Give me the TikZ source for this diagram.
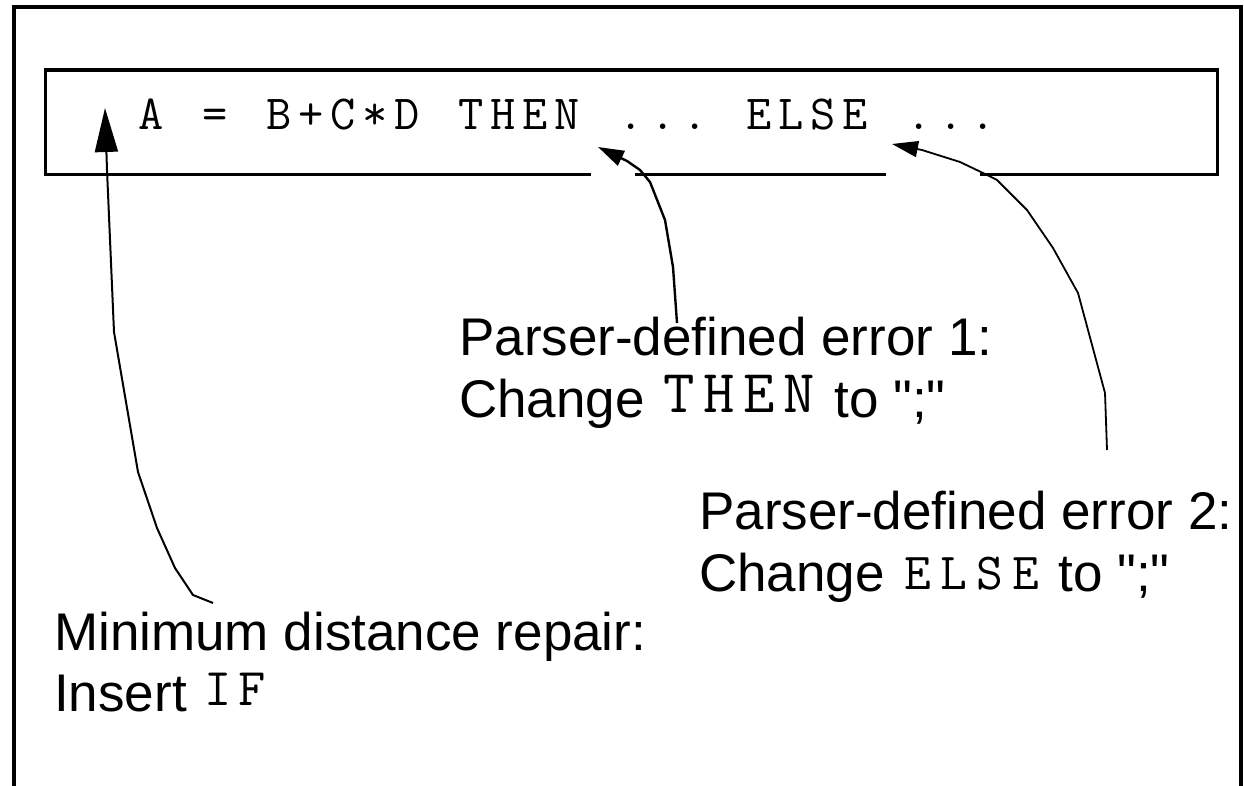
\documentclass[tikz,border=0pt]{standalone}
\usepackage{fontspec}
\setmainfont{Liberation Sans}[Ligatures=TeXOff]
\newfontfamily\monof{Latin Modern Mono}
\usetikzlibrary{arrows.meta}
\makeatletter
% each character of #2 set in a cell of width #1
\newcommand\spword[2]{\@tfor\@ch:=#2\do{\makebox[#1][c]{\@ch}}}
\makeatother
% two-line label, baseline of the node = baseline of the second line
\newcommand\twolines[3]{\vbox{\baselineskip=#1\lineskiplimit=-100pt\hbox{#2}\hbox{#3}}}
\begin{document}
\begin{tikzpicture}[x=1pt,y=-1pt,
  frame/.style={line width=4pt},
  boxline/.style={line width=3.3pt},
  conn/.style={line width=2pt, line join=round, -{Triangle[length=26pt,width=16pt]}},
  bigconn/.style={line width=2pt, line join=round, -{Triangle[length=44pt,width=23pt]}},
  lbl/.style={inner sep=0pt, anchor=base west, font=\fontsize{53}{62}\selectfont},
  codetext/.style={inner sep=0pt, anchor=base west, font=\monof\fontsize{49}{49}\selectfont}]
\useasboundingbox (0,0) rectangle (1244,786);
% outer frame, open at the bottom
\draw[frame] (14,788) -- (14,7) -- (1241,7) -- (1241,788);
% statement box with gaps in the lower edge
\draw[boxline] (591,174.5) -- (45.5,174.5) -- (45.5,70) -- (1217.5,70) -- (1217.5,174.5) -- (980,174.5);
\draw[boxline] (635,174.5) -- (886,174.5);
% statement
\node[codetext] (stmt) at (135,130) {\spword{32pt}{A}\hspace{32pt}\spword{32pt}{=}\hspace{32pt}\spword{32pt}{B+C*D}\hspace{32pt}\spword{32pt}{THEN}\hspace{32pt}\spword{32pt}{...}\hspace{32pt}\spword{32pt}{ELSE}\hspace{32pt}\spword{32pt}{...}};
% labels
\node[lbl] (lab1) at (459,417) {\twolines{62pt}{Parser-defined error 1:}{Change \raisebox{5pt}{\monof\fontsize{61}{61}\selectfont\spword{40pt}{THEN}} to ";"}};
\node[lbl] (lab2) at (699,591) {\twolines{62pt}{Parser-defined error 2:}{Change \raisebox{2pt}{\monof\fontsize{52}{52}\selectfont\spword{36pt}{ELSE}} to ";"}};
\node[lbl] (lab3) at (54,711) {\twolines{61pt}{Minimum distance repair:}{Insert \raisebox{6pt}{\monof\fontsize{53}{53}\selectfont\spword{34pt}{IF}}}};
% arrow end points
\coordinate (srcIF) at (213,603);
\coordinate (tipIF) at (105,108);
\coordinate (srcTHEN) at (677,323);
\coordinate (tipTHEN) at (598,147);
\coordinate (srcELSE) at (1107,450);
\coordinate (tipELSE) at (892,144);
% connectors
\draw[bigconn] (srcIF) -- (193,595) -- (175,568) -- (157,528) -- (138,472) -- (114,332) -- (107,170) -- (tipIF);
\draw[conn, line width=2.4pt] (srcTHEN) -- (673,267) -- (665,220) -- (650,182) -- (640,170) -- (627,161) -- (tipTHEN);
\draw[conn, line width=1.8pt] (srcELSE) -- (1105,393) -- (1078,293) -- (1053,248) -- (1027,210) -- (997,180) -- (983,173) -- (960,162) -- (922,150) -- (tipELSE);
\end{tikzpicture}
\end{document}
